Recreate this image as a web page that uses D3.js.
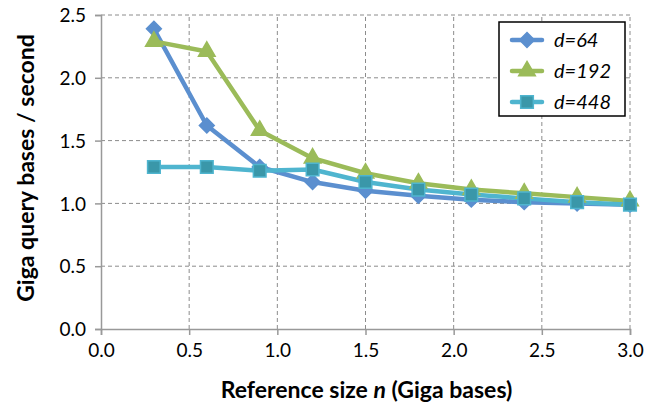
<!DOCTYPE html>
<html>
<head>
<meta charset="utf-8">
<script src="https://cdn.jsdelivr.net/npm/d3@7"></script>
<style>
  body { margin: 0; background: #fff; }
  text { font-family: Lato, "Open Sans", sans-serif; }
</style>
</head>
<body>
<div id="chart"></div>
<script>
// data
const refSize = [0.3, 0.6, 0.9, 1.2, 1.5, 1.8, 2.1, 2.4, 2.7, 3.0];
const d64  = [2.39, 1.62, 1.29, 1.17, 1.10, 1.06, 1.03, 1.01, 1.00, 0.99];
const d192 = [2.29, 2.21, 1.58, 1.36, 1.24, 1.16, 1.11, 1.08, 1.05, 1.02];
const d448 = [1.29, 1.29, 1.26, 1.27, 1.17, 1.11, 1.07, 1.04, 1.01, 0.99];
const seriesNames = ["d=64", "d=192", "d=448"];
const xTicks = [0, 0.5, 1, 1.5, 2, 2.5, 3];
const yTicks = [0, 0.5, 1, 1.5, 2, 2.5];

const width = 659, height = 409;
const margin = { top: 15, right: 29, bottom: 80, left: 101 };

// square diamond (d3's own diamond is too tall)
const wideDiamond = {
  draw(ctx, size) {
    const r = Math.sqrt(size / 2);
    ctx.moveTo(0, -r); ctx.lineTo(r, 0); ctx.lineTo(0, r); ctx.lineTo(-r, 0); ctx.closePath();
  }
};

const series = [
  { name: seriesNames[0], values: d64,  line: "#5b8fcf", fill: "#5b8fcf", stroke: "#5b8fcf", shape: wideDiamond, size: 110 },
  { name: seriesNames[1], values: d192, line: "#9bbb59", fill: "#9bbb59", stroke: "#9bbb59", shape: d3.symbolTriangle, size: 120 },
  { name: seriesNames[2], values: d448, line: "#4fb5cf", fill: "#3a97a9", stroke: "#4fb5cf", shape: d3.symbolSquare, size: 160 }
];

const x = d3.scaleLinear().domain([0, 3]).range([margin.left, width - margin.right]);
const y = d3.scaleLinear().domain([0, 2.5]).range([height - margin.bottom, margin.top]);

const svg = d3.select("#chart").append("svg")
  .attr("width", width).attr("height", height);

// grid
svg.append("g").selectAll("line")
  .data(xTicks.slice(1))
  .join("line")
  .attr("x1", d => x(d)).attr("x2", d => x(d))
  .attr("y1", y(0)).attr("y2", y(2.5))
  .attr("stroke", "#8c8c8c").attr("stroke-dasharray", "4,3");
svg.append("g").selectAll("line")
  .data(yTicks.slice(1))
  .join("line")
  .attr("y1", d => y(d)).attr("y2", d => y(d))
  .attr("x1", x(0)).attr("x2", x(3))
  .attr("stroke", "#8c8c8c").attr("stroke-dasharray", "4,3");

// axes
const xAxis = d3.axisBottom(x).tickValues(xTicks).tickFormat(d3.format(".1f")).tickSize(6).tickPadding(9);
const yAxis = d3.axisLeft(y).tickValues(yTicks).tickFormat(d3.format(".1f")).tickSize(6).tickPadding(9);

const gx = svg.append("g").attr("transform", `translate(0,${y(0)})`).call(xAxis);
const gy = svg.append("g").attr("transform", `translate(${x(0)},0)`).call(yAxis);
[gx, gy].forEach(g => {
  g.select(".domain").attr("stroke", "#999").attr("stroke-width", 1.5);
  g.selectAll(".tick line").attr("stroke", "#999").attr("stroke-width", 1.5);
  g.selectAll(".tick text").attr("font-size", 19).attr("fill", "#000")
    .style("font-family", "Lato, sans-serif");
});
gy.selectAll(".tick text").attr("dy", "0.35em");

// axis titles
svg.append("text")
  .attr("x", (x(0) + x(3)) / 2 + 1).attr("y", 398)
  .attr("text-anchor", "middle").attr("font-size", 23).attr("font-weight", "bold")
  .html('Reference size <tspan font-style="italic">n</tspan> (Giga bases)');
svg.append("text")
  .attr("transform", `translate(34,${(y(0) + y(2.5)) / 2 - 4}) rotate(-90)`)
  .attr("text-anchor", "middle").attr("font-size", 23).attr("font-weight", "bold")
  .text("Giga query bases / second");

// lines
const line = d3.line().x((d, i) => x(refSize[i])).y(d => y(d));
series.forEach(s => {
  svg.append("path")
    .datum(s.values)
    .attr("d", line)
    .attr("fill", "none")
    .attr("stroke", s.line)
    .attr("stroke-width", 4.5)
    .attr("stroke-linejoin", "round");
});
series.forEach(s => {
  svg.append("g").selectAll("path")
    .data(s.values)
    .join("path")
    .attr("transform", (d, i) => `translate(${x(refSize[i])},${y(d)})`)
    .attr("d", d3.symbol().type(s.shape).size(s.size))
    .attr("fill", s.fill)
    .attr("stroke", s.stroke)
    .attr("stroke-width", 1.5);
});

// legend
const legend = svg.append("g").attr("transform", "translate(499,22)");
legend.append("rect")
  .attr("width", 126).attr("height", 94)
  .attr("fill", "#fff").attr("stroke", "#000").attr("stroke-width", 1.5);
series.forEach((s, i) => {
  const g = legend.append("g").attr("transform", `translate(0,${18 + i * 31})`);
  g.append("line").attr("x1", 13).attr("x2", 43)
    .attr("stroke", s.line).attr("stroke-width", 4.5).attr("stroke-linecap", "round");
  g.append("path").attr("transform", "translate(28,0)")
    .attr("d", d3.symbol().type(s.shape).size(s.size))
    .attr("fill", s.fill).attr("stroke", s.stroke).attr("stroke-width", 1.5);
  g.append("text").attr("x", 55).attr("dy", "0.35em")
    .attr("font-size", 20).attr("font-style", "italic")
    .text(s.name);
});
</script>
</body>
</html>
